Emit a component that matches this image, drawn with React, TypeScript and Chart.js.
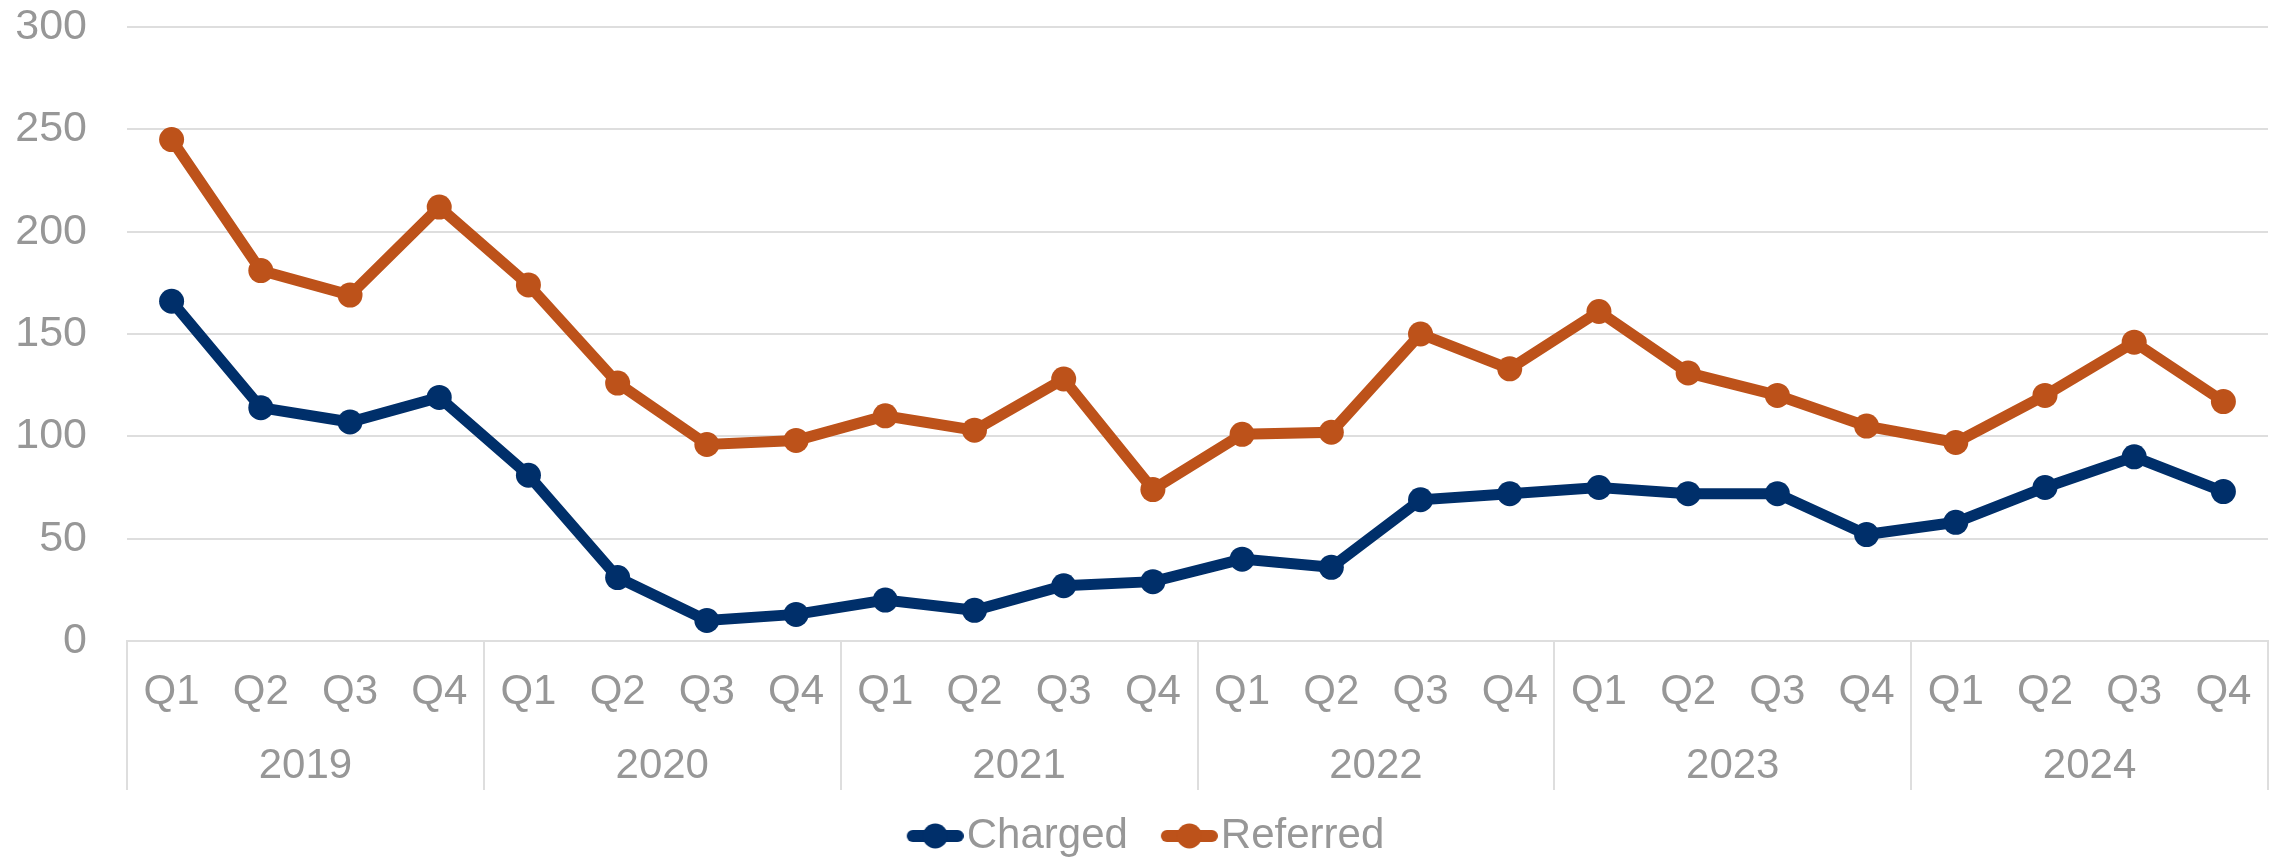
import React, { useEffect, useRef } from "react";
import { Chart, registerables } from "chart.js";

Chart.register(...registerables);

const quarters = ["Q1", "Q2", "Q3", "Q4"];
const years = ["2019", "2020", "2021", "2022", "2023", "2024"];
const charged = [166, 114, 107, 119, 81, 31, 10, 13, 20, 15, 27, 29, 40, 36, 69, 72, 75, 72, 72, 52, 58, 75, 90, 73];
const referred = [245, 181, 169, 212, 174, 126, 96, 98, 110, 103, 128, 74, 101, 102, 150, 133, 161, 131, 120, 105, 97, 120, 146, 117];
const yMin = 0;
const yMax = 300;
const yStep = 50;

const NAVY = "#002F6A";
const ORANGE = "#BD521A";
const GRID = "#dedede";
const TEXT = "#979797";
const FONT = "'Liberation Sans', Arial, sans-serif";

function makeMarker(color: string) {
  const c = document.createElement("canvas");
  c.width = 98;
  c.height = 28;
  const g = c.getContext("2d")!;
  g.strokeStyle = color;
  g.lineWidth = 12;
  g.lineCap = "round";
  g.beginPath();
  g.moveTo(47, 14);
  g.lineTo(92, 14);
  g.stroke();
  g.fillStyle = color;
  g.beginPath();
  g.arc(69.5, 14, 12.5, 0, Math.PI * 2);
  g.fill();
  return c;
}

export default function App() {
  const ref = useRef<HTMLCanvasElement | null>(null);

  useEffect(() => {
    if (!ref.current) return;
    const labels = years.flatMap(() => quarters);
    const markers = [makeMarker(NAVY), makeMarker(ORANGE)];
    const chart = new Chart(ref.current, {
      type: "line",
      data: {
        labels,
        datasets: [
          {
            label: "Charged",
            data: charged,
            borderColor: NAVY,
            backgroundColor: NAVY,
            borderWidth: 11,
            pointRadius: 12.5,
            pointBorderWidth: 0,
            pointBackgroundColor: NAVY,
            tension: 0,
          },
          {
            label: "Referred",
            data: referred,
            borderColor: ORANGE,
            backgroundColor: ORANGE,
            borderWidth: 11,
            pointRadius: 12.5,
            pointBorderWidth: 0,
            pointBackgroundColor: ORANGE,
            tension: 0,
          },
        ],
      },
      options: {
        responsive: false,
        animation: false,
        layout: { padding: { top: 27, right: 15, left: 0, bottom: 0 } },
        plugins: {
          tooltip: { enabled: false },
          legend: {
            position: "bottom",
            labels: {
              usePointStyle: true,
              pointStyleWidth: 62,
              padding: 10,
              color: TEXT,
              font: { family: FONT, size: 42 },
              generateLabels: (ch: any) => {
                const items = (Chart.defaults as any).plugins.legend.labels.generateLabels(ch);
                items.forEach((it: any, i: number) => {
                  it.pointStyle = markers[i];
                });
                return items;
              },
            },
          },
        },
        scales: {
          y: {
            min: yMin,
            max: yMax,
            ticks: {
              stepSize: yStep,
              color: TEXT,
              padding: 40,
              font: { family: FONT, size: 43 },
            },
            grid: { color: GRID, lineWidth: 2, drawTicks: false },
            border: { display: false },
            afterFit: (s: any) => {
              s.width = 127;
              s.paddingTop = 0;
              s.paddingBottom = 0;
            },
          },
          x: {
            axis: "x",
            position: "bottom",
            weight: 0,
            offset: true,
            ticks: {
              color: TEXT,
              autoSkip: false,
              maxRotation: 0,
              padding: -123,
              font: { family: FONT, size: 42 },
            },
            grid: {
              offset: true,
              drawOnChartArea: false,
              drawTicks: true,
              tickLength: 149,
              lineWidth: 2,
              color: (c: any) =>
                c.type !== "tick" || c.index % 4 === 0 ? GRID : "rgba(0,0,0,0)",
            },
            border: { display: true, color: GRID, width: 2 },
            afterFit: (s: any) => {
              s.height = 100;
            },
          },
          xYear: {
            type: "category",
            axis: "x",
            position: "bottom",
            weight: 1,
            labels: years,
            offset: true,
            ticks: {
              color: TEXT,
              autoSkip: false,
              maxRotation: 0,
              padding: 0,
              font: { family: FONT, size: 42 },
            },
            grid: { display: false, drawTicks: false, drawOnChartArea: false },
            border: { display: false },
            afterFit: (s: any) => {
              s.height = 64;
            },
          },
        },
      } as any,
    });
    return () => chart.destroy();
  }, []);

  return (
    <div
      style={{
        position: "absolute",
        left: 0,
        top: 0,
        width: 2283,
        height: 858,
        overflow: "hidden",
        background: "#fff",
      }}
    >
      <canvas ref={ref} width={2283} height={867} style={{ display: "block" }} />
    </div>
  );
}
